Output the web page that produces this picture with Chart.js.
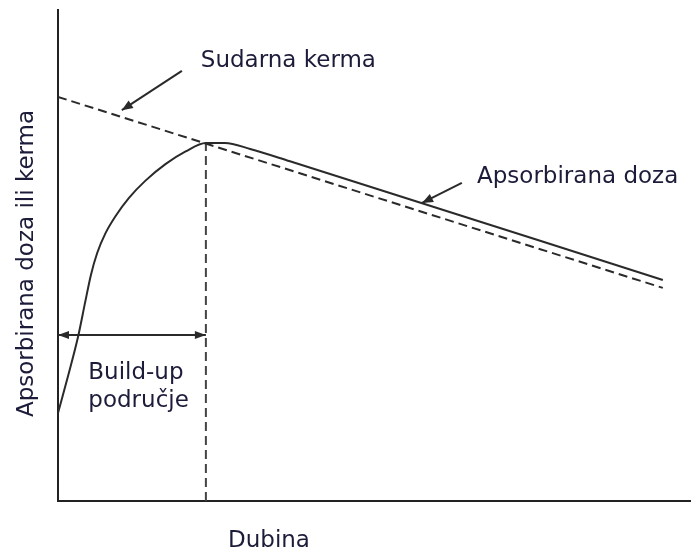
<!DOCTYPE html>
<html>
<head>
<meta charset="utf-8">
<script src="https://cdn.jsdelivr.net/npm/chart.js@4"></script>
<style>
  html, body { margin: 0; padding: 0; background: #fff; }
  #wrap { width: 691px; height: 551px; }
</style>
</head>
<body>
<div id="wrap"><canvas id="doseChart"></canvas></div>
<script>
// Depth (x) and dose/kerma (y) in arbitrary units
const kermaX = [0, 9.57];
const kermaY = [8.23, 4.34];

const doseX = [0, 0.16, 0.32, 0.43, 0.52, 0.62, 0.75, 0.92, 1.12, 1.38, 1.70, 2.02, 2.34, 2.64, 3.04, 3.67, 9.57];
const doseY = [1.79, 2.55, 3.36, 4.05, 4.60, 5.05, 5.45, 5.82, 6.17, 6.52, 6.86, 7.12, 7.29, 7.29, 7.17, 6.92, 4.50];

// depth of dose maximum and the height of the build-up arrow
const buildUpDepth = 2.34;
const buildUpPeak = 7.29;
const buildUpArrowY = 3.38;

const textColor = '#1c1c3a';
const lineColor = '#2a2a2a';
const font = '23px "DejaVu Sans"';

const toPoints = (xs, ys) => xs.map((x, i) => ({ x: x, y: ys[i] }));

function arrowHead(ctx, x1, y1, x2, y2, len, half) {
    // filled head at (x2, y2) pointing away from (x1, y1)
    const a = Math.atan2(y2 - y1, x2 - x1);
    ctx.beginPath();
    ctx.moveTo(x2, y2);
    ctx.lineTo(x2 - len * Math.cos(a) + half * Math.sin(a), y2 - len * Math.sin(a) - half * Math.cos(a));
    ctx.lineTo(x2 - len * Math.cos(a) - half * Math.sin(a), y2 - len * Math.sin(a) + half * Math.cos(a));
    ctx.closePath();
    ctx.fill();
}

// text labels, pointer arrows and axis titles
const annotations = {
    id: 'annotations',
    afterDraw(chart) {
        const ctx = chart.ctx;
        const xs = chart.scales.x, ys = chart.scales.y;
        const area = chart.chartArea;
        const px = v => xs.getPixelForValue(v);
        const py = v => ys.getPixelForValue(v);

        ctx.save();
        ctx.fillStyle = lineColor;
        ctx.strokeStyle = lineColor;
        ctx.lineWidth = 2;

        // build-up double arrow heads
        arrowHead(ctx, px(buildUpDepth), py(buildUpArrowY), px(0), py(buildUpArrowY), 11, 4);
        arrowHead(ctx, px(0), py(buildUpArrowY), px(buildUpDepth), py(buildUpArrowY), 11, 4);

        // pointer arrows
        const pointers = [
            [1.96, 8.76, 1.01, 7.96],
            [6.39, 6.48, 5.76, 6.07]
        ];
        pointers.forEach(p => {
            const x1 = px(p[0]), y1 = py(p[1]), x2 = px(p[2]), y2 = py(p[3]);
            ctx.beginPath();
            ctx.moveTo(x1, y1);
            ctx.lineTo(x2, y2);
            ctx.stroke();
            arrowHead(ctx, x1, y1, x2, y2, 11, 4.5);
        });

        ctx.fillStyle = textColor;
        ctx.font = font;
        ctx.textBaseline = 'alphabetic';
        ctx.textAlign = 'left';
        ctx.fillText('Sudarna kerma', px(2.26), py(8.84));
        ctx.fillText('Apsorbirana doza', px(6.63), py(6.48));
        ctx.fillText('Build-up', px(0.48), py(2.49));
        ctx.fillText('područje', px(0.48), py(1.91));

        // axis titles
        ctx.fillText('Dubina', area.left + 170, area.bottom + 46);
        ctx.save();
        ctx.translate(area.left - 25, (area.top + area.bottom) / 2 + 8);
        ctx.rotate(-Math.PI / 2);
        ctx.textAlign = 'center';
        ctx.fillText('Apsorbirana doza ili kerma', 0, 0);
        ctx.restore();

        ctx.restore();
    }
};

const ctx = document.getElementById('doseChart').getContext('2d');
const doseChart = new Chart(ctx, {
    type: 'line',
    data: {
        datasets: [
            {
                label: 'Sudarna kerma',
                data: toPoints(kermaX, kermaY),
                borderColor: lineColor,
                borderWidth: 2,
                borderDash: [9, 5],
                pointRadius: 0
            },
            {
                label: 'Apsorbirana doza',
                data: toPoints(doseX, doseY),
                borderColor: lineColor,
                borderWidth: 2,
                cubicInterpolationMode: 'monotone',
                pointRadius: 0
            },
            {
                label: 'dmax',
                data: [{ x: buildUpDepth, y: 0 }, { x: buildUpDepth, y: buildUpPeak }],
                borderColor: '#444',
                borderWidth: 2,
                borderDash: [9, 5],
                pointRadius: 0
            },
            {
                label: 'Build-up',
                data: [{ x: 0, y: buildUpArrowY }, { x: buildUpDepth, y: buildUpArrowY }],
                borderColor: lineColor,
                borderWidth: 2,
                pointRadius: 0
            }
        ]
    },
    options: {
        responsive: true,
        maintainAspectRatio: false,
        animation: false,
        layout: { padding: { left: 58, top: 10, right: 1, bottom: 50 } },
        plugins: {
            legend: { display: false },
            tooltip: { enabled: false }
        },
        scales: {
            x: {
                type: 'linear',
                min: 0,
                max: 10,
                grid: { display: false, drawTicks: false, tickLength: 0 },
                ticks: { display: false },
                border: { display: true, color: '#222', width: 2 }
            },
            y: {
                type: 'linear',
                min: 0,
                max: 10,
                grid: { display: false, drawTicks: false, tickLength: 0 },
                ticks: { display: false },
                border: { display: true, color: '#222', width: 2 }
            }
        }
    },
    plugins: [annotations]
});
</script>
</body>
</html>
